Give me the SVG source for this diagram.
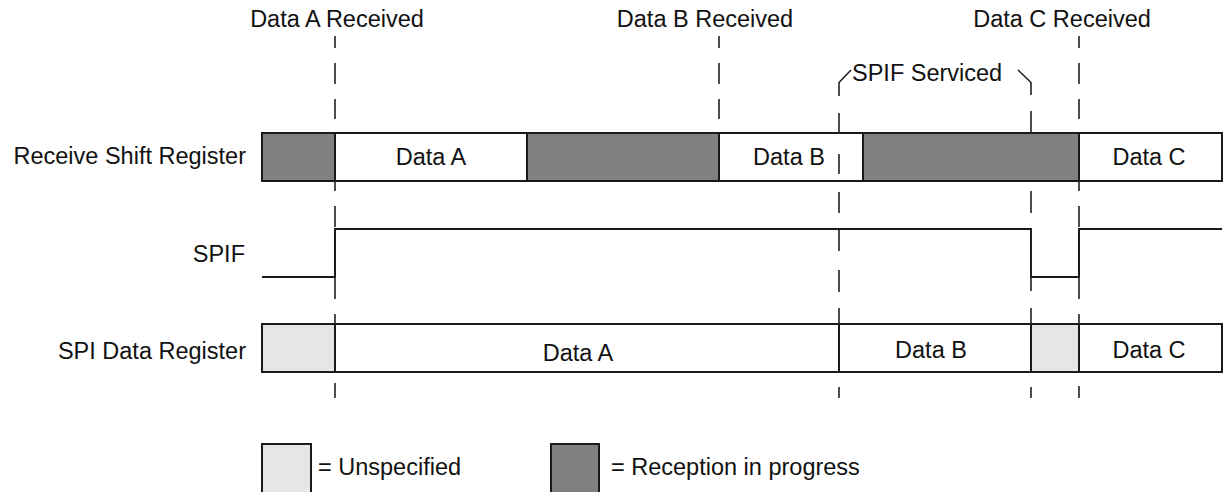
<svg xmlns="http://www.w3.org/2000/svg" width="1223" height="492" viewBox="0 0 1223 492">
<style>
text{font-family:"Liberation Sans",Arial,Helvetica,sans-serif;font-size:23.5px;fill:#111}
.mid{text-anchor:middle}
.end{text-anchor:end}
.cell{stroke:#1a1a1a;stroke-width:2}
.dk{fill:#808080}
.lt{fill:#e6e6e6}
.wh{fill:#fff}
.dash{fill:none;stroke:#222;stroke-width:1.6}
.wave{fill:none;stroke:#1a1a1a;stroke-width:2}
</style>
<rect width="1223" height="492" fill="#fff"/>
<g id="top-labels">
<text class="mid" x="337" y="27">Data A Received</text>
<text class="mid" x="705" y="27">Data B Received</text>
<text class="mid" x="1062" y="27">Data C Received</text>
<text x="852" y="81">SPIF Serviced</text>
</g>
<g id="row-labels">
<text class="end" x="246" y="164">Receive Shift Register</text>
<text class="end" x="245" y="262">SPIF</text>
<text class="end" x="246" y="359">SPI Data Register</text>
</g>
<g id="receive-shift-register">
<rect class="cell dk" x="262" y="133" width="73" height="48"/>
<rect class="cell wh" x="335" y="133" width="192" height="48"/>
<rect class="cell dk" x="527" y="133" width="192" height="48"/>
<rect class="cell wh" x="719" y="133" width="144" height="48"/>
<rect class="cell dk" x="863" y="133" width="216" height="48"/>
<rect class="cell wh" x="1079" y="133" width="143" height="48"/>
<text class="mid" x="431" y="165">Data A</text>
<text class="mid" x="789" y="165">Data B</text>
<text class="mid" x="1149" y="165">Data C</text>
</g>
<g id="spi-data-register">
<rect class="cell lt" x="262" y="324" width="73" height="48"/>
<rect class="cell wh" x="335" y="324" width="504" height="48"/>
<rect class="cell wh" x="839" y="324" width="192" height="48"/>
<rect class="cell lt" x="1031" y="324" width="48" height="48"/>
<rect class="cell wh" x="1079" y="324" width="143" height="48"/>
<text class="mid" x="578" y="361">Data A</text>
<text class="mid" x="931" y="358">Data B</text>
<text class="mid" x="1149" y="358">Data C</text>
</g>
<g id="spif-signal">
<path class="wave" d="M262 277 H335 V229 H1031 V277 H1079 V229 H1222"/>
</g>
<g id="connectors">
<path class="dash" d="M335 36V48M335 63V84M335 99V119M335 181V191M335 206V227M335 277V299M335 314V324M335 383V398"/>
<path class="dash" d="M719 36V48M719 63V84M719 99V119"/>
<path class="dash" d="M1079 36V48M1079 63V84M1079 99V119M1079 181V191M1079 206V227M1079 277V299M1079 314V324M1079 386V398"/>
<path class="dash" d="M851 70L839 82.5V96M839 113V134M839 154V174M839 192V213M839 230V251M839 270V292M839 308V324M839 387V398"/>
<path class="dash" d="M1018 70L1031 82.5V95M1031 111V133M1031 191V213M1031 228V291M1031 308V324M1031 387V398"/>
</g>
<g id="legend">
<rect class="cell lt" x="262" y="444" width="49" height="52"/>
<text x="318" y="475">= Unspecified</text>
<rect class="cell dk" x="551" y="444" width="48" height="52"/>
<text x="611" y="475">= Reception in progress</text>
</g>
</svg>
